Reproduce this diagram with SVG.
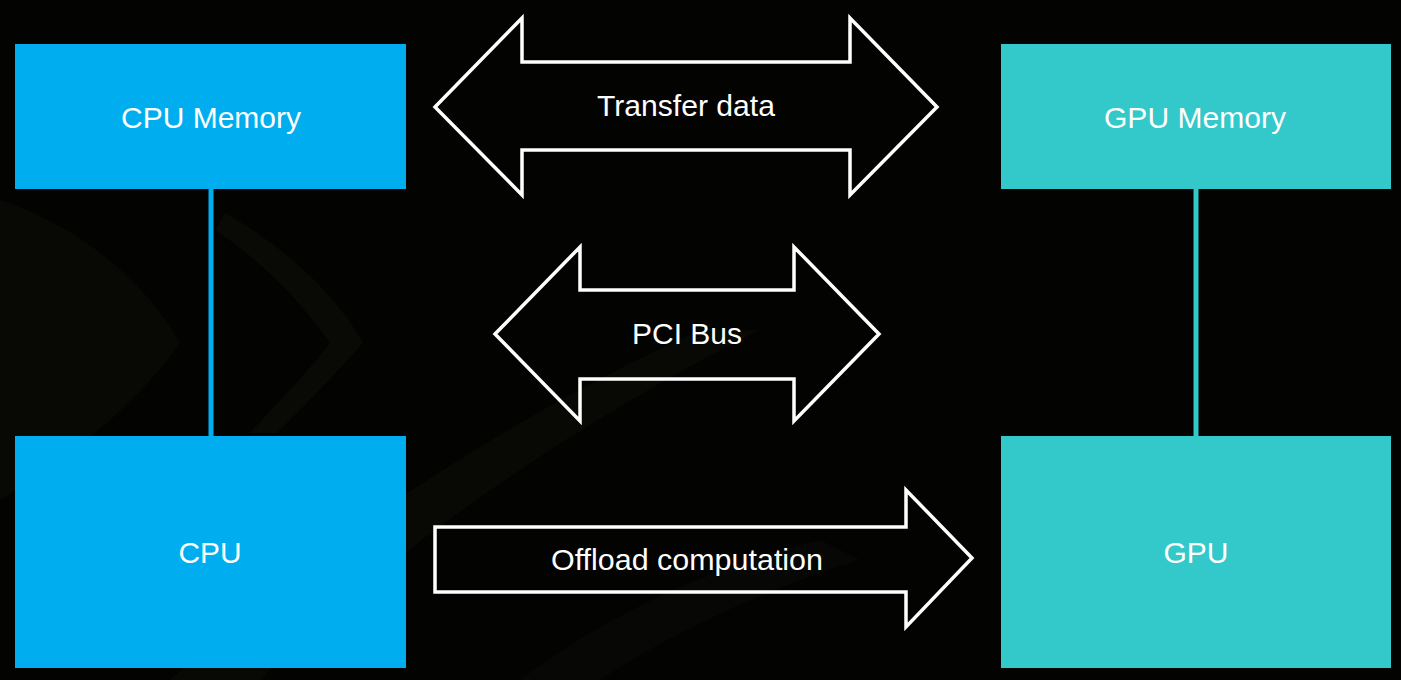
<svg xmlns="http://www.w3.org/2000/svg" width="1401" height="680" viewBox="0 0 1401 680">
  <defs>
    <style>
      .bg-shape { fill: #0b0b07; }
      .cpu { fill: #00AEEF; }
      .gpu { fill: #33C8CA; }
      .label { font-family: "Liberation Sans", Arial, Helvetica, sans-serif; font-size: 29px; fill: #ffffff; text-anchor: middle; }
      .arrow { fill: none; stroke: #ffffff; stroke-width: 3.5; stroke-linejoin: miter; }
      .link-cpu { stroke: #00AEEF; stroke-width: 5; }
      .link-gpu { stroke: #33C8CA; stroke-width: 5; }
    </style>
  </defs>

  <!-- dark backdrop with faint chevron texture -->
  <rect x="0" y="0" width="1401" height="680" fill="#030302"/>
  <g id="backdrop">
    <path class="bg-shape" d="M0,200 C90,230 150,290 180,343 C140,400 80,450 0,500 Z" opacity="0.7"/>
    <path class="bg-shape" d="M225,213 C290,250 340,300 363,343 C330,380 300,410 277,433 L250,433 C280,400 310,370 330,343 C300,300 260,260 215,230 Z" opacity="0.8"/>
    <path class="bg-shape" d="M170,680 C300,560 480,430 700,330 L760,330 C560,430 380,560 260,680 Z" opacity="0.6"/>
    <path class="bg-shape" d="M520,680 C600,620 700,570 820,540 L860,560 C760,590 660,640 600,680 Z" opacity="0.5"/>
  </g>

  <!-- vertical links between memory and processor, plus the labelled block arrows -->
  <g id="connectors">
    <line class="link-cpu" x1="211" y1="188" x2="211" y2="437"/>
    <line class="link-gpu" x1="1196" y1="188" x2="1196" y2="437"/>
    <polygon id="transfer-arrow" class="arrow" points="435,107 522,18 522,62 850,62 850,18 937,107 850,195 850,150 522,150 522,195"/>
    <polygon id="pci-arrow" class="arrow" points="495,334 580,247 580,290 794,290 794,247 879,334 794,421 794,379 580,379 580,421"/>
    <polygon id="offload-arrow" class="arrow" points="435,527 906,527 906,490 972,558 906,627 906,592 435,592"/>
    <text class="label" x="686" y="116" textLength="178" lengthAdjust="spacingAndGlyphs">Transfer data</text>
    <text class="label" x="687" y="344" textLength="110" lengthAdjust="spacingAndGlyphs">PCI Bus</text>
    <text class="label" x="687" y="570" textLength="272" lengthAdjust="spacingAndGlyphs">Offload computation</text>
  </g>

  <g id="cpu-memory">
    <rect class="cpu" x="15" y="44" width="391" height="145"/>
    <text class="label" x="211" y="128" textLength="180" lengthAdjust="spacingAndGlyphs">CPU Memory</text>
  </g>

  <g id="gpu-memory">
    <rect class="gpu" x="1001" y="44" width="390" height="145"/>
    <text class="label" x="1195" y="128" textLength="182" lengthAdjust="spacingAndGlyphs">GPU Memory</text>
  </g>

  <g id="cpu">
    <rect class="cpu" x="15" y="436" width="391" height="232"/>
    <text class="label" x="210" y="563" textLength="63" lengthAdjust="spacingAndGlyphs">CPU</text>
  </g>

  <g id="gpu">
    <rect class="gpu" x="1001" y="436" width="390" height="232"/>
    <text class="label" x="1196" y="563" textLength="65" lengthAdjust="spacingAndGlyphs">GPU</text>
  </g>
</svg>
